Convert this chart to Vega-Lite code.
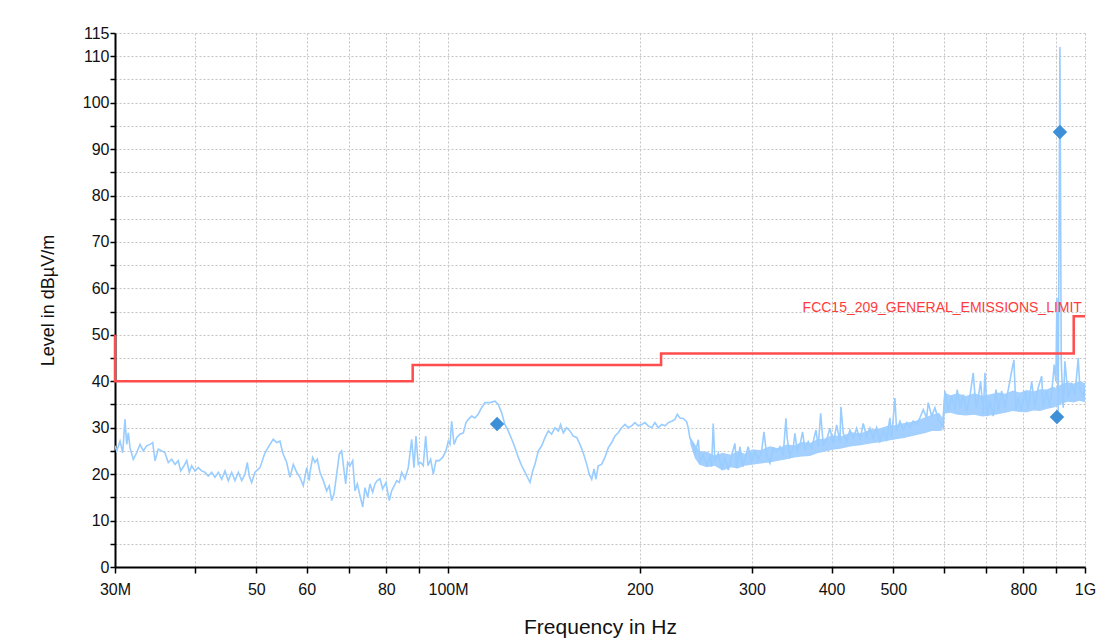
{
  "$schema": "https://vega.github.io/schema/vega-lite/v6.json",
  "width": 970,
  "height": 534,
  "autosize": {"type": "none"},
  "padding": {"left": 115, "top": 33, "right": 25, "bottom": 74},
  "background": "white",
  "config": {"view": {"stroke": null}, "font": "Liberation Sans"},
  "datasets": {
    "trace": [
      {"f":30.00,"v":26.1},{"f":30.18,"v":25},{"f":30.55,"v":27.1},{"f":30.85,"v":24.6},{"f":31.10,"v":31.8},{"f":31.30,"v":26.4},{"f":31.48,"v":28.9},{"f":31.67,"v":25.7},{"f":32.05,"v":23.2},{"f":32.45,"v":24.6},{"f":32.84,"v":26.4},{"f":33.23,"v":25},{"f":33.64,"v":26.1},{"f":34.05,"v":26.4},{"f":34.38,"v":26.8},{"f":34.67,"v":22.9},{"f":35.08,"v":25.4},{"f":35.52,"v":25},{"f":35.94,"v":24.6},{"f":36.37,"v":22.5},{"f":36.82,"v":23.2},{"f":37.27,"v":22.1},{"f":37.71,"v":22.9},{"f":38.04,"v":20.7},{"f":38.50,"v":21.8},{"f":38.88,"v":22.9},{"f":39.24,"v":20.4},{"f":39.58,"v":21.8},{"f":40.06,"v":20.7},{"f":40.54,"v":21.4},{"f":41.04,"v":20.7},{"f":41.53,"v":20.4},{"f":42.03,"v":19.6},{"f":42.55,"v":20.4},{"f":43.06,"v":19.3},{"f":43.58,"v":20.4},{"f":44.12,"v":18.9},{"f":44.65,"v":20.7},{"f":45.18,"v":18.6},{"f":45.74,"v":20.4},{"f":46.29,"v":18.6},{"f":46.85,"v":20.4},{"f":47.43,"v":18.6},{"f":47.99,"v":20},{"f":48.40,"v":22.5},{"f":48.75,"v":19.6},{"f":49.17,"v":18.2},{"f":49.76,"v":20.4},{"f":50.67,"v":21.4},{"f":51.59,"v":24.6},{"f":52.53,"v":26.4},{"f":53.16,"v":27.5},{"f":53.82,"v":26.8},{"f":54.47,"v":27.1},{"f":55.00,"v":24.6},{"f":55.80,"v":22.5},{"f":56.47,"v":19.3},{"f":57.15,"v":22.1},{"f":57.86,"v":20.4},{"f":58.55,"v":19.3},{"f":59.25,"v":17.5},{"f":59.99,"v":21.4},{"f":60.55,"v":18.6},
      {"f":60.71,"v":20.4},{"f":61.30,"v":23.6},{"f":61.81,"v":22.5},{"f":62.33,"v":23.2},{"f":62.94,"v":20.4},{"f":63.70,"v":18.6},{"f":64.48,"v":16.4},{"f":65.09,"v":17.5},{"f":65.66,"v":14.3},{"f":66.21,"v":15.7},{"f":66.86,"v":20},{"f":67.49,"v":24.3},{"f":68.08,"v":25},{"f":68.47,"v":22.1},{"f":69.07,"v":17.9},{"f":69.57,"v":22.5},{"f":70.15,"v":21.8},{"f":70.84,"v":22.9},{"f":71.43,"v":16.4},{"f":72.03,"v":17.9},{"f":72.73,"v":15.4},{"f":73.45,"v":12.9},{"f":74.06,"v":17.1},{"f":74.79,"v":15},{"f":75.41,"v":17.9},{"f":76.15,"v":16.1},{"f":76.79,"v":17.9},{"f":77.43,"v":18.6},{"f":78.19,"v":19},{"f":78.95,"v":16.8},{"f":79.90,"v":18.2},{"f":80.86,"v":14.3},{"f":81.56,"v":16.4},{"f":82.34,"v":17.5},{"f":83.05,"v":18.6},{"f":83.84,"v":18.2},{"f":84.57,"v":20.4},{"f":85.58,"v":19},{"f":86.61,"v":21.4},{"f":87.68,"v":27.5},{"f":88.41,"v":21.4},{"f":89.05,"v":28.2},{"f":89.79,"v":22.1},{"f":90.58,"v":22.5},{"f":91.43,"v":21.8},{"f":92.23,"v":28.2},{"f":93.00,"v":21.8},{"f":93.91,"v":23.2},{"f":94.80,"v":20},{"f":95.73,"v":22.9},{"f":96.88,"v":22.9},{"f":98.07,"v":23.6},{"f":99.25,"v":25},{"f":100.08,"v":27.1},{"f":100.7,"v":26.4},{"f":101.3,"v":31.4},{"f":102.2,"v":26.4},{"f":103.2,"v":27.9},{"f":104.4,"v":28.6},{"f":105.7,"v":28.9},{"f":106.7,"v":31.1},{"f":107.6,"v":31.8},{"f":108.9,"v":32.5},{"f":110.2,"v":32.1},{"f":111.5,"v":32.9},{"f":112.9,"v":34.3},{"f":114.3,"v":35.4},{"f":116.4,"v":35.4},{"f":118.5,"v":35.7},
      {"f":119.9,"v":35},{"f":121.4,"v":33.2},{"f":122.8,"v":30.7},{"f":124.3,"v":29.3},{"f":125.9,"v":27.5},{"f":127.4,"v":25.7},{"f":128.9,"v":23.6},{"f":130.5,"v":21.8},{"f":132.1,"v":20.4},{"f":133.6,"v":19},{"f":134.5,"v":18.2},{"f":135.8,"v":20.7},{"f":136.9,"v":22.1},{"f":138.6,"v":25},{"f":140.3,"v":26.1},{"f":142.0,"v":27.9},{"f":143.7,"v":29.3},{"f":145.4,"v":28.6},{"f":147.2,"v":30},{"f":149.0,"v":29.3},{"f":150.2,"v":30.7},{"f":151.7,"v":28.9},{"f":153.5,"v":30},{"f":155.4,"v":29.3},{"f":157.2,"v":28.2},{"f":159.2,"v":27.9},{"f":161.1,"v":26.4},{"f":163.0,"v":24.6},{"f":165.1,"v":22.1},{"f":166.6,"v":20},{"f":168.1,"v":18.9},{"f":169.5,"v":21.1},{"f":170.7,"v":18.9},{"f":172.1,"v":21.8},{"f":174.2,"v":22.1},{"f":176.3,"v":23.6},{"f":178.5,"v":25.7},{"f":180.7,"v":26.8},{"f":182.8,"v":28.2},{"f":185.0,"v":28.9},{"f":187.3,"v":30},{"f":189.6,"v":30.7},{"f":191.8,"v":30},{"f":194.2,"v":30.4},{"f":196.5,"v":31.1},{"f":198.9,"v":30.4},{"f":201.4,"v":30.7},{"f":203.8,"v":31.1},{"f":206.2,"v":30.4},{"f":208.8,"v":30},{"f":211.3,"v":31.1},{"f":213.8,"v":30},{"f":216.5,"v":30.7},{"f":219.1,"v":30.4},{"f":221.7,"v":31.1},{"f":224.4,"v":31.4},{"f":227.1,"v":31.8},{"f":229.0,"v":32.9},{"f":231.3,"v":32.1},
      {"f":234.0,"v":32},{"f":236.9,"v":31.3},{"f":238.3,"v":29.9},{"f":239.8,"v":27.7},{"f":242.6,"v":26.3},{"f":244.1,"v":24.1},{"f":247.1,"v":27.4},{"f":248.6,"v":22.7},{"f":251.6,"v":24.1},{"f":254.7,"v":22},{"f":257.7,"v":23.8},{"f":259.3,"v":21.6},{"f":260.8,"v":30.9},{"f":262.4,"v":22.7},{"f":265.6,"v":24.5},{"f":268.9,"v":21.3},{"f":272.1,"v":23.4},{"f":275.4,"v":20.9},{"f":278.8,"v":24.1},{"f":282.1,"v":26.6},{"f":283.9,"v":21.3},{"f":287.3,"v":25.9},{"f":290.1,"v":21.6},{"f":292.5,"v":23.4},{"f":296.0,"v":25.9},{"f":299.7,"v":22.7},{"f":303.3,"v":24.9},{"f":306.9,"v":23.1},{"f":310.7,"v":24.9},{"f":313.3,"v":29.1},{"f":316.4,"v":24.1},{"f":320.2,"v":22.4},{"f":324.0,"v":25.6},{"f":328.0,"v":24.9},{"f":332.0,"v":25.9},{"f":335.9,"v":24.1},{"f":339.2,"v":32},{"f":340.8,"v":27.7},{"f":344.2,"v":23.8},{"f":348.3,"v":25.6},{"f":350.4,"v":28.8},{"f":353.4,"v":24.9},{"f":356.8,"v":26.3},{"f":360.3,"v":29.1},{"f":363.3,"v":25.2},{"f":367.7,"v":27},{"f":372.3,"v":25.6},{"f":378.1,"v":29.5},{"f":381.2,"v":25.9},{"f":384.6,"v":33.1},{"f":388.2,"v":26.3},{"f":393.0,"v":27.4},{"f":397.7,"v":29.9},{"f":402.5,"v":26.6},{"f":407.5,"v":30.6},{"f":412.3,"v":27},{"f":413.8,"v":34.5},{"f":417.3,"v":28.8},{"f":422.5,"v":27},{"f":427.5,"v":29.5},{"f":432.7,"v":27.7},{"f":438.0,"v":29.9},{"f":443.3,"v":27.4},{"f":448.6,"v":30.9},{"f":454.1,"v":28.1},{"f":459.6,"v":29.9},{"f":465.1,"v":27.7},
      {"f":470.8,"v":30},{"f":476.5,"v":27.1},{"f":482.2,"v":29.3},{"f":488.2,"v":27.5},{"f":494.0,"v":32.1},{"f":497.1,"v":27.9},{"f":503.0,"v":36.4},{"f":506.1,"v":29.3},{"f":512.2,"v":31.4},{"f":518.4,"v":29.6},{"f":524.8,"v":31.1},{"f":531.1,"v":30},{"f":537.4,"v":31.4},{"f":544.1,"v":30.7},{"f":550.6,"v":32.1},{"f":557.2,"v":33.9},{"f":564.1,"v":32.1},{"f":567.4,"v":35.4},{"f":574.4,"v":32.5},{"f":581.3,"v":34.3},{"f":588.3,"v":31.8},{"f":595.5,"v":30.7},{"f":599.0,"v":30},{"f":602.7,"v":37.9},{"f":609.9,"v":33.6},{"f":617.5,"v":36.8},{"f":624.9,"v":33.9},{"f":630.1,"v":38.2},{"f":636.3,"v":34.3},{"f":643.9,"v":37.1},{"f":651.9,"v":33.6},{"f":659.7,"v":36.8},{"f":667.6,"v":41.8},{"f":674.2,"v":34.3},{"f":679.8,"v":36.4},{"f":685.7,"v":40},{"f":692.2,"v":32.9},{"f":696.5,"v":41.8},{"f":702.3,"v":32.5},{"f":709.2,"v":35.7},{"f":717.7,"v":32.5},{"f":724.7,"v":38.2},{"f":730.8,"v":33.6},{"f":739.8,"v":37.9},{"f":748.7,"v":34.3},{"f":757.7,"v":38.2},{"f":767.0,"v":42.1},{"f":773.4,"v":44.6},{"f":779.1,"v":33.6},{"f":785.5,"v":36.4},{"f":795.3,"v":33.6},{"f":804.8,"v":37.9},{"f":814.4,"v":33.9},{"f":824.5,"v":40},{"f":834.4,"v":34.6},{"f":844.4,"v":38.6},{"f":854.9,"v":41.1},{"f":859.8,"v":34.6},{"f":870.4,"v":37.9},{"f":880.9,"v":34.6},{"f":889.5,"v":39.6},{"f":894.7,"v":43.6},{"f":900.1,"v":40},{"f":903.5,"v":58},{"f":907.8,"v":33.5},{"f":911.0,"v":80},{"f":913.3,"v":112},{"f":915.7,"v":75},{"f":917.6,"v":45},{"f":919.0,"v":42.1},{"f":924.3,"v":34.3},{"f":930.0,"v":44.3},{"f":941.1,"v":36.4},{"f":952.8,"v":39.3},{"f":964.2,"v":37.1},{"f":975.8,"v":45},{"f":981.8,"v":38.2},{"f":993.6,"v":36.8},{"f":1000,"v":38.6}
    ],
    "band": [
      {"f":240,"v":26.5,"v2":28},{"f":244,"v":23.5,"v2":26.5},{"f":248,"v":22,"v2":25},{"f":255,"v":21.5,"v2":24.8},{"f":262,"v":21.8,"v2":24},{"f":270,"v":20.8,"v2":24.6},{"f":278,"v":21.5,"v2":24.2},{"f":285,"v":21.2,"v2":25},{"f":292,"v":21.8,"v2":24.4},{"f":300,"v":22,"v2":25.3},{"f":310,"v":22.3,"v2":25.2},{"f":320,"v":22.5,"v2":26},{"f":330,"v":22.9,"v2":25.6},{"f":340,"v":23.2,"v2":26.4},{"f":350,"v":23.6,"v2":26.2},{"f":360,"v":23.8,"v2":27},{"f":370,"v":23.9,"v2":26.7},{"f":380,"v":24.5,"v2":27.5},{"f":390,"v":24.8,"v2":27.6},{"f":400,"v":25.2,"v2":28.4},{"f":415,"v":25.5,"v2":28.2},{"f":430,"v":26,"v2":29},{"f":445,"v":26.2,"v2":28.8},{"f":460,"v":26.6,"v2":29.6},{"f":475,"v":26.8,"v2":29.8},{"f":490,"v":27.2,"v2":30.4},{"f":505,"v":27.5,"v2":30.6},{"f":520,"v":27.8,"v2":31},{"f":540,"v":28.3,"v2":31.4},{"f":560,"v":28.8,"v2":32.2},{"f":575,"v":29.3,"v2":32.8},{"f":590,"v":29.3,"v2":33.2},{"f":597,"v":29.4,"v2":32.2},{"f":601,"v":33,"v2":37.6},{"f":615,"v":33.2,"v2":37},{"f":630,"v":32.8,"v2":37.4},{"f":650,"v":32.6,"v2":36.8},{"f":670,"v":32.8,"v2":37.4},{"f":690,"v":32.4,"v2":36.9},{"f":710,"v":32.6,"v2":37.2},{"f":730,"v":32.9,"v2":37.6},{"f":750,"v":33.2,"v2":37.3},{"f":770,"v":33.6,"v2":38},{"f":790,"v":33.4,"v2":37.6},{"f":810,"v":33.3,"v2":38.1},{"f":830,"v":33.7,"v2":37.8},{"f":850,"v":33.6,"v2":38.3},{"f":870,"v":34,"v2":38.2},{"f":890,"v":34.3,"v2":38.8},{"f":900,"v":34.5,"v2":38.6},{"f":920,"v":35.2,"v2":39.4},{"f":940,"v":35.6,"v2":39.8},{"f":960,"v":35.4,"v2":39.5},{"f":980,"v":35.8,"v2":40},{"f":1000,"v":35.5,"v2":39.6}
    ],
    "limit": [
      {"i":0,"f":30,"v":50},{"i":1,"f":30,"v":40},{"i":2,"f":88,"v":40},{"i":3,"f":88,"v":43.5},{"i":4,"f":216,"v":43.5},{"i":5,"f":216,"v":46},{"i":6,"f":960,"v":46},{"i":7,"f":960,"v":54},{"i":8,"f":1000,"v":54}
    ],
    "peaks": [
      {"f":119.4,"v":30.8},{"f":913.3,"v":93.7},{"f":903.5,"v":32.3}
    ],
    "label": [
      {"f":989,"v":55.8,"t":"FCC15_209_GENERAL_EMISSIONS_LIMIT"}
    ]
  },
  "layer": [
    {
      "data": {"name": "band"},
      "mark": {"type": "area", "color": "#a3d0ff", "opacity": 1, "interpolate": "linear"},
      "encoding": {
        "x": {"field": "f", "type": "quantitative", "title": "Frequency in Hz"},
        "y": {"field": "v", "type": "quantitative", "title": "Level in dBµV/m"},
        "y2": {"field": "v2"}
      }
    },
    {
      "data": {"name": "trace"},
      "mark": {"type": "line", "color": "#99ccff", "strokeWidth": 1.6, "clip": true},
      "encoding": {
        "x": {
          "field": "f", "type": "quantitative", "title": "Frequency in Hz",
          "scale": {"type": "log", "domain": [30, 1000], "nice": false},
          "axis": {
            "values": [30,40,50,60,70,80,90,100,200,300,400,500,600,700,800,900,1000],
            "tickCount": 40,
            "format": "d",
            "labelExpr": "datum.value==30?'30M':datum.value==100?'100M':datum.value==1000?'1G':(indexof([50,60,80,200,300,400,500,800],datum.value)>=0?datum.label:'')",
            "grid": true, "gridDash": [2,2], "gridColor": "#c4c4c4", "gridWidth": 1,
            "domainColor": "#000000", "domainWidth": 2,
            "tickColor": "#000000", "tickWidth": 1.5, "tickSize": 6,
            "labelFontSize": 16, "labelColor": "#111111", "labelPadding": 8,
            "labelFlush": false, "labelOverlap": false,
            "titleFontSize": 21, "titleFontWeight": "normal", "titleColor": "#111111", "titlePadding": 19
          }
        },
        "y": {
          "field": "v", "type": "quantitative", "title": "Level in dBµV/m",
          "scale": {"domain": [0, 115], "nice": false, "zero": false},
          "axis": {
            "values": [0,5,10,15,20,25,30,35,40,45,50,55,60,65,70,75,80,85,90,95,100,105,110,115],
            "tickCount": 40,
            "labelExpr": "(datum.value%10==0||datum.value==115)?datum.label:''",
            "grid": true, "gridDash": [2,2], "gridColor": "#c4c4c4", "gridWidth": 1,
            "domainColor": "#000000", "domainWidth": 2,
            "tickColor": "#000000", "tickWidth": 1.5, "tickSize": 5,
            "labelFontSize": 16, "labelColor": "#111111", "labelPadding": 1,
            "labelOverlap": false, "labelFlush": false, "labelBound": false,
            "titleFontSize": 18, "titleFontWeight": "normal", "titleColor": "#111111", "titlePadding": 25
          }
        }
      }
    },
    {
      "data": {"name": "limit"},
      "mark": {"type": "line", "color": "#ff4d4d", "strokeWidth": 2.5, "clip": false},
      "encoding": {
        "x": {"field": "f", "type": "quantitative", "title": "Frequency in Hz"},
        "y": {"field": "v", "type": "quantitative", "title": "Level in dBµV/m"},
        "order": {"field": "i", "type": "quantitative"}
      }
    },
    {
      "data": {"name": "peaks"},
      "mark": {"type": "point", "shape": "diamond", "filled": true, "color": "#3d8fd8", "opacity": 1, "size": 210},
      "encoding": {
        "x": {"field": "f", "type": "quantitative", "title": "Frequency in Hz"},
        "y": {"field": "v", "type": "quantitative", "title": "Level in dBµV/m"}
      }
    },
    {
      "data": {"name": "label"},
      "mark": {"type": "text", "align": "right", "baseline": "middle", "fontSize": 14, "color": "#ff3b3b", "font": "Liberation Sans"},
      "encoding": {
        "x": {"field": "f", "type": "quantitative", "title": "Frequency in Hz"},
        "y": {"field": "v", "type": "quantitative", "title": "Level in dBµV/m"},
        "text": {"field": "t", "type": "nominal"}
      }
    }
  ]
}
